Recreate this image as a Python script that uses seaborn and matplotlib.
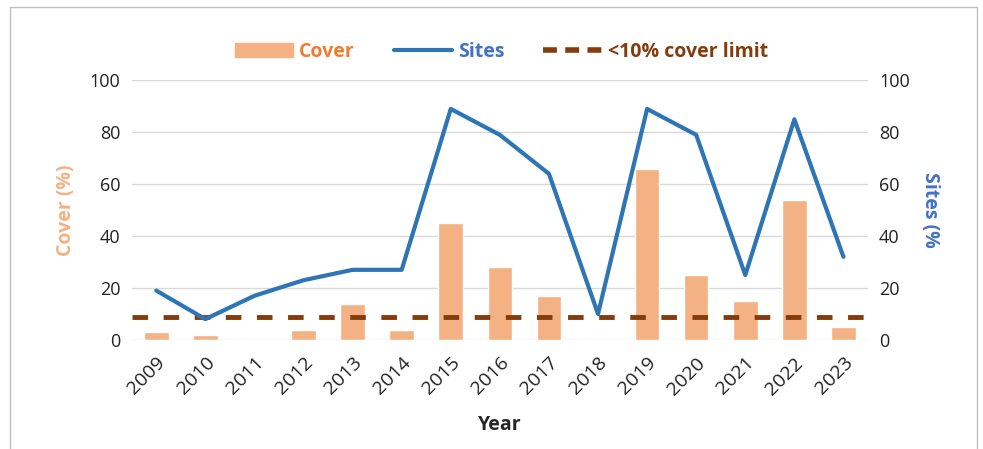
import pandas as pd
import matplotlib.pyplot as plt
import seaborn as sns
from matplotlib.lines import Line2D
from matplotlib.patches import Patch

# Данные
years = [str(y) for y in range(2009, 2024)]
cover = [3, 2, 0, 4, 14, 4, 45, 28, 17, 0, 66, 25, 15, 54, 5]
sites = [19, 8, 17, 23, 27, 27, 89, 79, 64, 10, 89, 79, 25, 85, 32]
cover_limit = 9

df = pd.DataFrame({'year': years, 'cover': cover, 'sites': sites})

sns.set_style("white")
plt.rcParams['font.family'] = ['Open Sans', 'DejaVu Sans']

bar_col = '#F4B183'
line_col = '#2E75B6'
limit_col = '#843C0C'

fig = plt.figure(figsize=(9.83, 4.49), dpi=100)
ax = fig.add_axes([0.134, 0.243, 0.749, 0.578])

sns.barplot(data=df, x='year', y='cover', color=bar_col, width=0.5,
            saturation=1, ax=ax, zorder=2)
ax.axhline(cover_limit, color=limit_col, lw=3.5, ls=(0, (3.2, 3.2)), zorder=3)

ax2 = ax.twinx()
sns.lineplot(data=df, x='year', y='sites', color=line_col, lw=3, ax=ax2,
             sort=False)

for a in (ax, ax2):
    a.set_ylim(0, 100)
    a.set_yticks(range(0, 101, 20))
    a.tick_params(axis='y', labelsize=13, length=0, pad=8, colors='#222222')
    for s in a.spines.values():
        s.set_visible(False)
ax.set_xlim(-0.5, len(years) - 0.5)
ax.yaxis.grid(True, color='#D9D9D9', lw=1)
ax.set_axisbelow(True)
ax.tick_params(axis='x', labelsize=14, length=0, pad=10, colors='#222222')
plt.setp(ax.get_xticklabels(), rotation=45, ha='right', rotation_mode='anchor')

ax.set_xlabel('Year', fontsize=14, fontweight='bold', labelpad=12)
ax.set_ylabel('Cover (%)', fontsize=14, fontweight='bold', color=bar_col, labelpad=10)
ax2.set_xlabel('')
ax2.set_ylabel('Sites (%', fontsize=14, fontweight='bold', color='#4472C4',
               rotation=270, labelpad=22)

handles = [Patch(color=bar_col),
           Line2D([], [], color=line_col, lw=3),
           Line2D([], [], color=limit_col, lw=4, ls=(0, (2.5, 1.5)))]
leg = fig.legend(handles, ['Cover', 'Sites', '<10% cover limit'],
                 loc='center', bbox_to_anchor=(0.51, 0.885), ncol=3, frameon=False,
                 prop={'size': 14, 'weight': 'bold'}, handlelength=3,
                 handletextpad=0.3, columnspacing=2.0)
for t, c in zip(leg.get_texts(), ['#ED7D31', '#4472C4', limit_col]):
    t.set_color(c)

# рамка вокруг рисунка
fig.patches.append(plt.Rectangle((0.01, -0.01), 0.984, 0.995, transform=fig.transFigure,
                                 fill=False, ec='#BFBFBF', lw=1))

plt.savefig('out.png', dpi=100)
